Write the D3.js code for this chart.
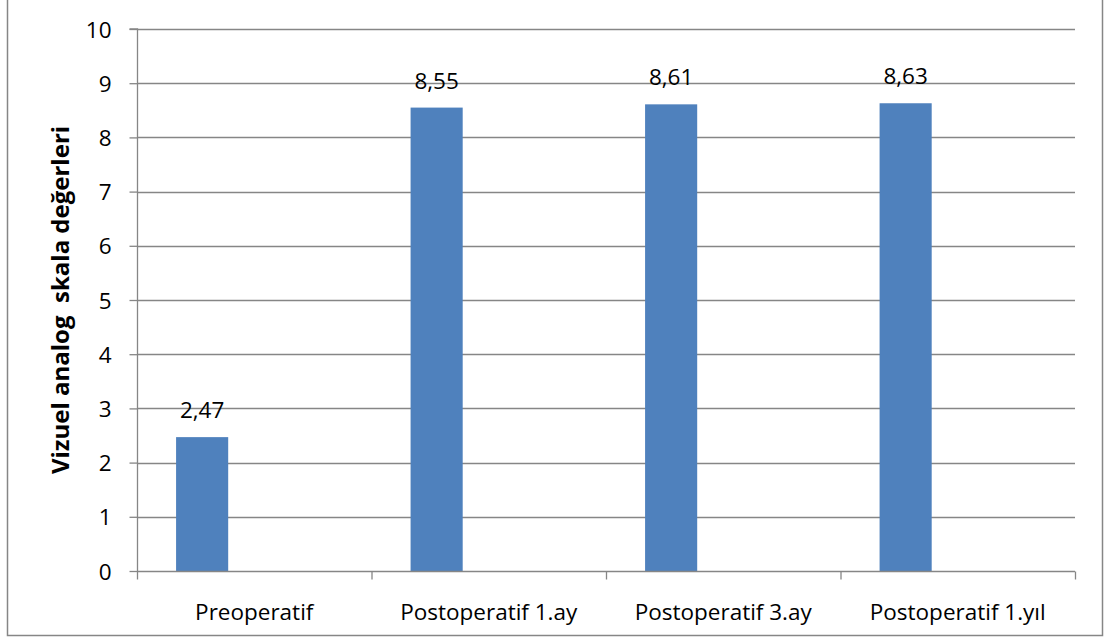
<!DOCTYPE html>
<html><head><meta charset="utf-8">
<script src="https://cdn.jsdelivr.net/npm/d3@7"></script>
<style>body{margin:0;background:#fff}</style>
</head><body>
<svg id="c" width="1104" height="639"></svg>
<script>
const categories = ["Preoperatif", "Postoperatif 1.ay", "Postoperatif 3.ay", "Postoperatif 1.yıl"];
const values = [2.47, 8.55, 8.61, 8.63];
const valueLabels = ["2,47", "8,55", "8,61", "8,63"];
const yTicks = [0,1,2,3,4,5,6,7,8,9,10];
const yTitle = "Vizuel analog  skala değerleri";

const svg = d3.select("#c");
const font = "'Open Sans', sans-serif";
const fs = 22.5;
const m = {l:137, r:1075, t:29, b:571};
svg.append("rect").attr("x",7.5).attr("y",-1).attr("width",1095).attr("height",636.5)
  .attr("fill","#fff").attr("stroke","#868686").attr("stroke-width",1.5);

const x = d3.scaleBand().domain(categories).range([m.l, m.r]);
const sub = d3.scaleBand().domain([0,1,2]).range([0, x.bandwidth()]).paddingInner(0).paddingOuter(0.75);
const y = d3.scaleLinear().domain([0,10]).range([m.b, m.t]);

// gridlines
svg.append("g").selectAll("line").data(yTicks.filter(d=>d>0)).join("line")
  .attr("x1",m.l).attr("x2",m.r).attr("y1",d=>Math.round(y(d))+0.5).attr("y2",d=>Math.round(y(d))+0.5)
  .attr("stroke","#868686").attr("stroke-width",1.3);

// y axis
const ya = svg.append("g").attr("transform",`translate(${m.l+0.5},0)`)
  .call(d3.axisLeft(y).tickValues(yTicks).tickSize(8).tickPadding(18));
ya.select(".domain").attr("stroke","#868686").attr("stroke-width",1.3).attr("d",`M-8,${m.t}H0V${m.b}`);
ya.selectAll(".tick line").attr("stroke","#868686").attr("stroke-width",1.3);
ya.selectAll(".tick text").attr("font-family",font).attr("font-size",fs).attr("fill","#000").attr("dy","0.36em");

// bars
svg.append("g").selectAll("rect").data(values).join("rect")
  .attr("x",(d,i)=>x(categories[i])+sub(0)).attr("width",sub.bandwidth())
  .attr("y",d=>y(d)).attr("height",d=>y(0)-y(d)).attr("fill","#4F81BD");

// x axis
const xa = svg.append("g").attr("transform",`translate(0,${m.b+0.5})`);
xa.append("line").attr("x1",m.l).attr("x2",m.r).attr("stroke","#868686").attr("stroke-width",1.3);
const edges = categories.map(c=>x(c)).concat([m.r]);
xa.selectAll("line.t").data(edges).join("line").attr("class","t")
  .attr("x1",d=>d+0.5).attr("x2",d=>d+0.5).attr("y1",0).attr("y2",8)
  .attr("stroke","#868686").attr("stroke-width",1.3);
xa.selectAll("text").data(categories).join("text")
  .attr("x",d=>x(d)+x.bandwidth()/2).attr("y",48).attr("text-anchor","middle")
  .attr("font-family",font).attr("font-size",fs).text(d=>d);

// value labels
svg.append("g").selectAll("text").data(values).join("text")
  .attr("x",(d,i)=>x(categories[i])+sub(0)+sub.bandwidth()/2).attr("y",d=>y(d)-19)
  .attr("text-anchor","middle").attr("font-family",font).attr("font-size",fs).text((d,i)=>valueLabels[i]);

// y title
svg.append("text").attr("transform",`translate(69,${(m.t+m.b)/2}) rotate(-90)`)
  .attr("text-anchor","middle").attr("font-family",font).attr("font-weight","bold")
  .attr("font-size",24).attr("xml:space","preserve").style("white-space","pre").text(yTitle);
</script>
</body></html>
